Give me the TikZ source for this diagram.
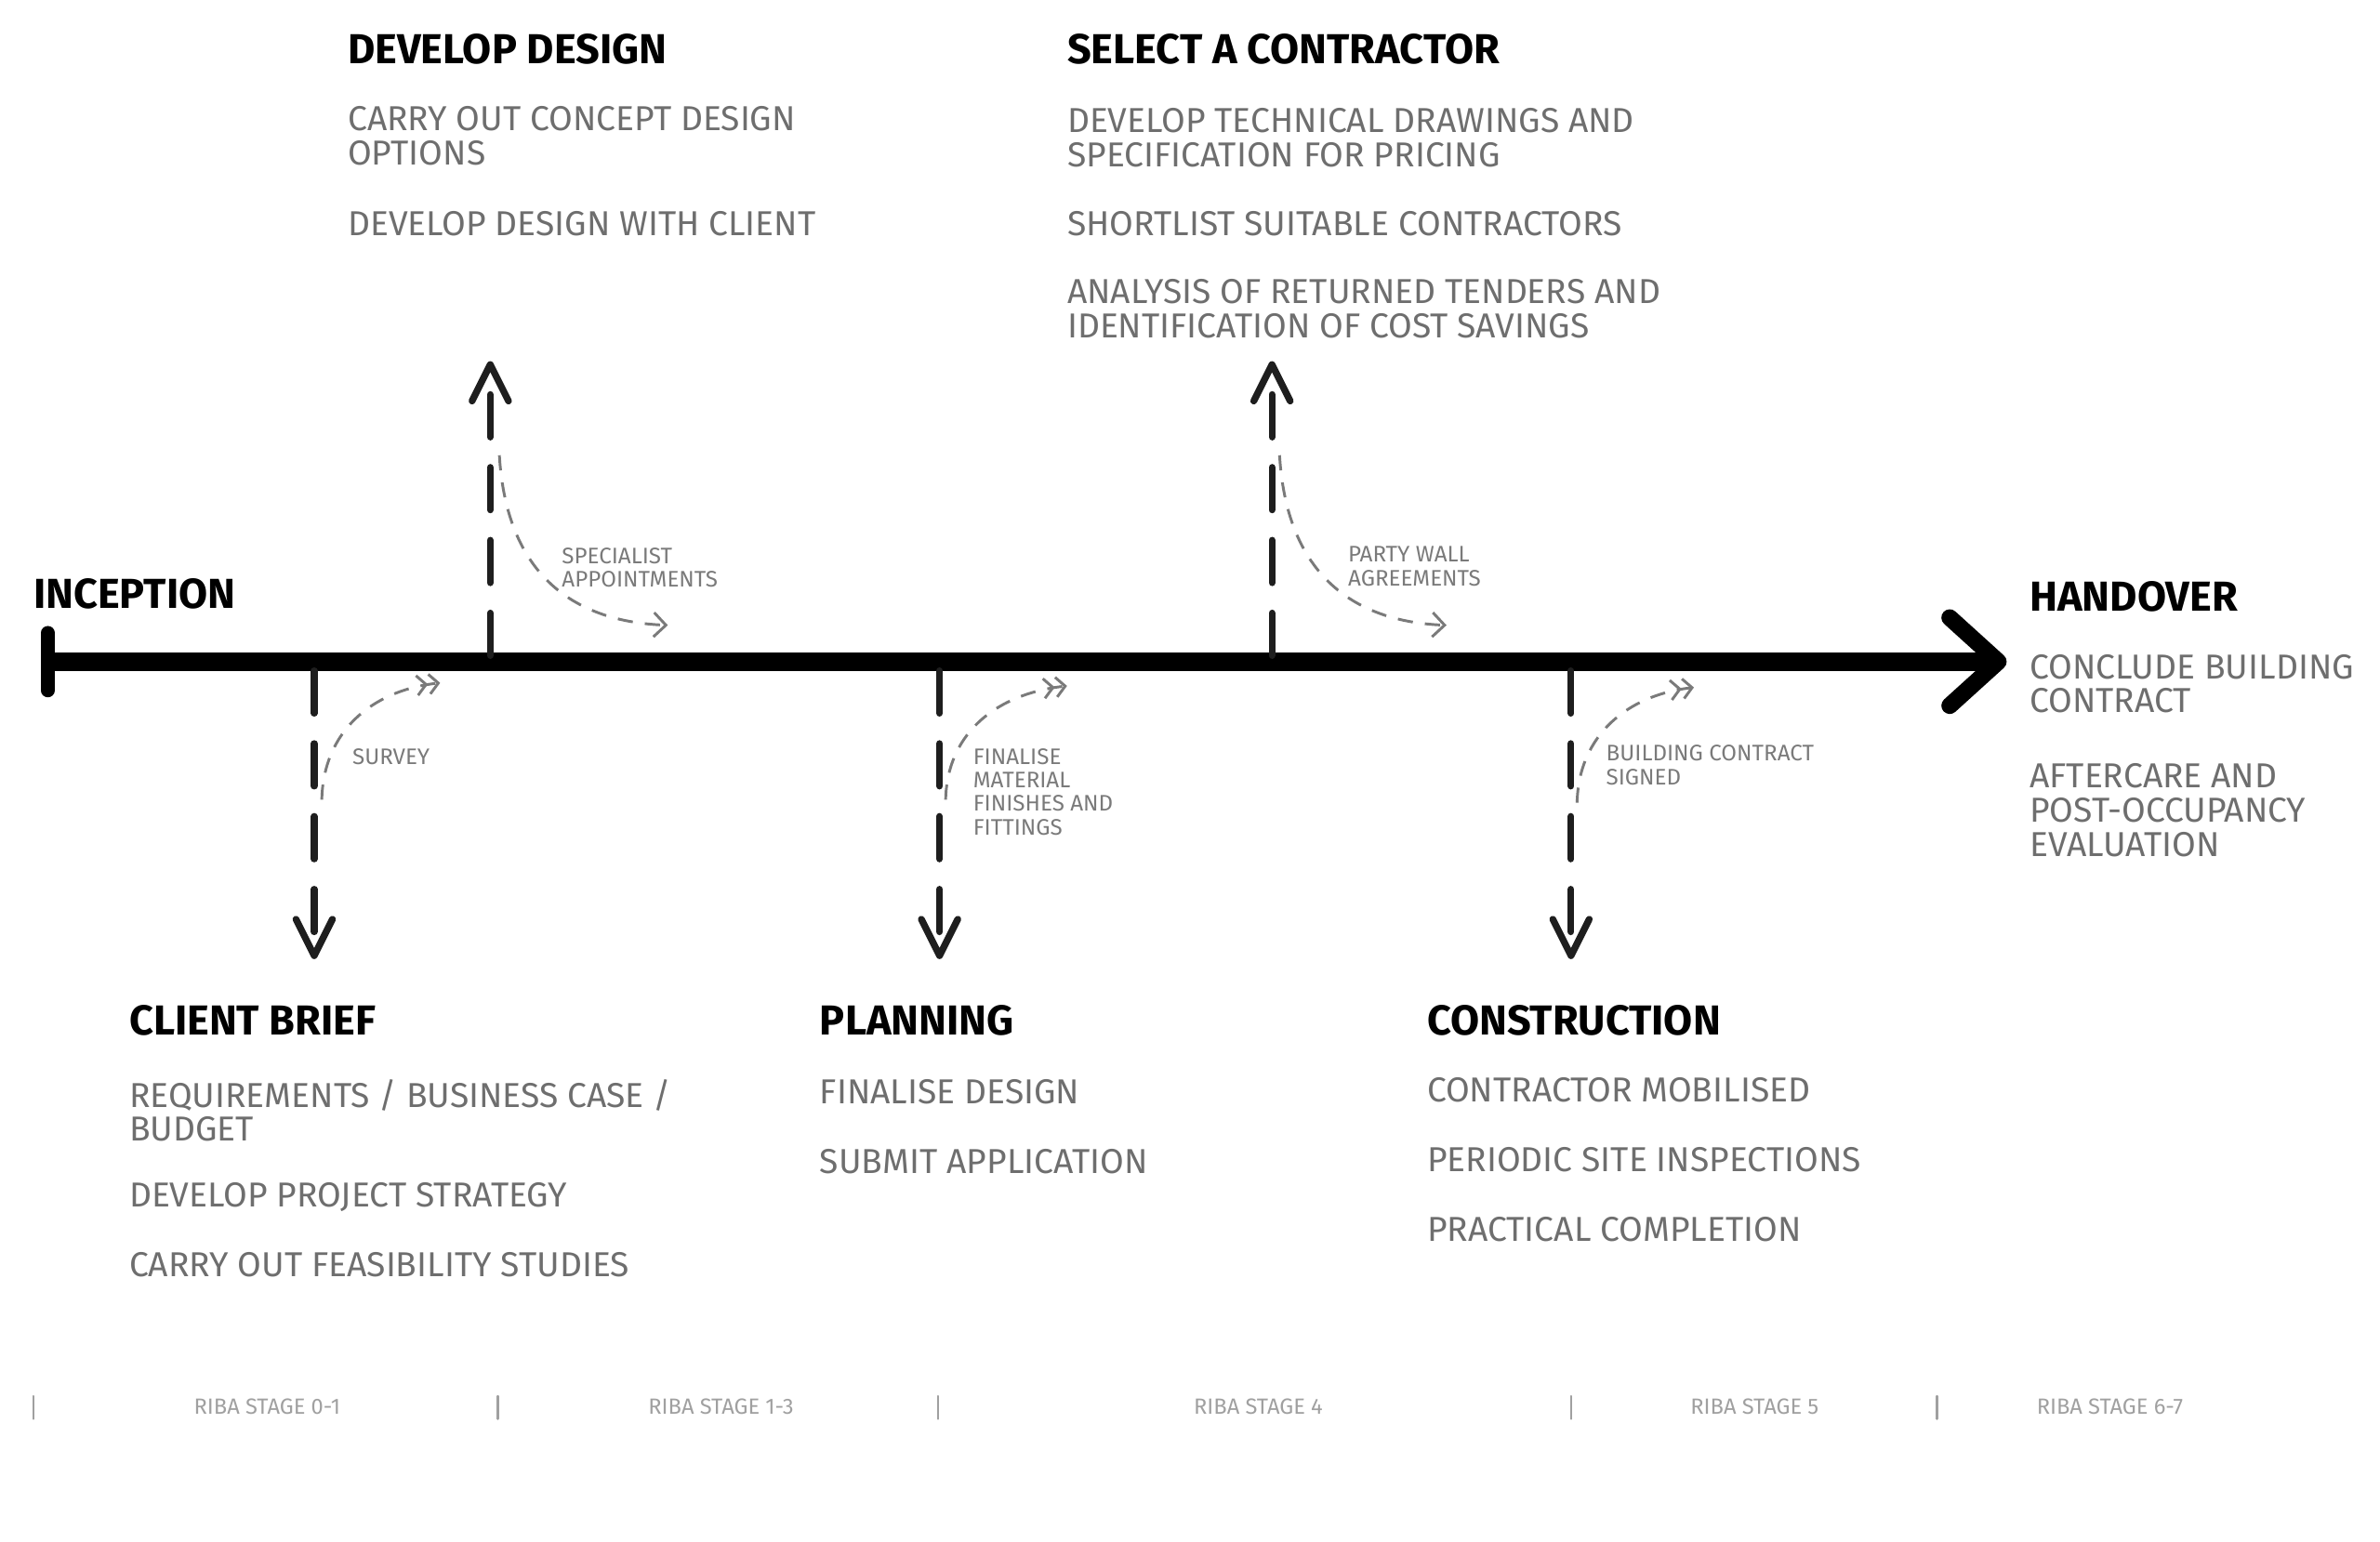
\documentclass[tikz,border=0pt]{standalone}
\usepackage{fontspec}
\setmainfont{Fira Sans}
\usetikzlibrary{arrows.meta}
\definecolor{inkgray}{HTML}{6E6E6E}
\definecolor{notegray}{HTML}{7A7A7A}
\definecolor{stagegray}{HTML}{A0A0A0}
\definecolor{steminka}{HTML}{1E1E1E}

\begin{document}
\begin{tikzpicture}[x=1pt,y=-1pt,
  head/.style={anchor=north west,inner sep=0pt,font=\fontsize{27.6}{30}\selectfont\bfseries},
  item/.style={anchor=north west,inner sep=0pt,align=left,text=inkgray,font=\fontsize{22.8}{22.5}\selectfont},
  aside/.style={anchor=north west,inner sep=0pt,align=left,text=notegray,font=\fontsize{14.8}{15.5}\selectfont},
  stagename/.style={text=stagegray,inner sep=0pt,font=\fontsize{14.5}{15}\selectfont},
  stem/.style={steminka,line width=4.5pt,line cap=round,dash pattern=on 28pt off 20pt,
    -{Straight Barb[length=24pt,width=24pt,line width=4.5pt,round]}},
  hook/.style={notegray,line width=1.8pt,dash pattern=on 10pt off 8pt,
    -{Straight Barb[length=8pt,width=16pt,line width=1.8pt]}},
  hookback/.style={notegray,line width=1.8pt,dash pattern=on 10pt off 8pt,
    -{Straight Barb[length=6pt,width=13pt,line width=1.8pt]Straight Barb[length=6pt,width=13pt,line width=1.8pt]}}]
  \useasboundingbox (0,0) rectangle (1568,1016);
  \def\stagetick#1{\draw[stagegray,line width=1.5pt,line cap=round] (#1,920) -- (#1,935);}
  % timeline
  \coordinate (t0) at (27,436);
  \coordinate (t1) at (1322,436);
  \draw[line width=12.5pt,{Bar[width=38pt,line width=9pt,round]}-{Straight Barb[length=32pt,width=58pt,line width=11pt,round]}] (t0) -- (t1);
  \node[head] (inception) at (22,381) {INCEPTION};
  \node[head] (handover) at (1337,383) {HANDOVER};
  \node[item] (handover-a) at (1337,431) {CONCLUDE BUILDING\\CONTRACT};
  \node[item] (handover-b) at (1337,503) {AFTERCARE AND\\POST-OCCUPANCY\\EVALUATION};
  % upper stages
  \node[head] (design) at (229,22) {DEVELOP DESIGN};
  \node[item] (design-a) at (229,70) {CARRY OUT CONCEPT DESIGN\\OPTIONS};
  \node[item] (design-b) at (229,139) {DEVELOP DESIGN WITH CLIENT};
  \node[head] (tender) at (703,22) {SELECT A CONTRACTOR};
  \node[item] (tender-a) at (703,71) {DEVELOP TECHNICAL DRAWINGS AND\\SPECIFICATION FOR PRICING};
  \node[item] (tender-b) at (703,139) {SHORTLIST SUITABLE CONTRACTORS};
  \node[item] (tender-c) at (703,184) {ANALYSIS OF RETURNED TENDERS AND\\IDENTIFICATION OF COST SAVINGS};
  % lower stages
  \node[head] (brief) at (85,662) {CLIENT BRIEF};
  \node[item] (brief-a) at (85,711) {REQUIREMENTS / BUSINESS CASE /\\BUDGET};
  \node[item] (brief-b) at (85,779) {DEVELOP PROJECT STRATEGY};
  \node[item] (brief-c) at (85,825) {CARRY OUT FEASIBILITY STUDIES};
  \node[head] (planning) at (540,662) {PLANNING};
  \node[item] (planning-a) at (540,711) {FINALISE DESIGN};
  \node[item] (planning-b) at (540,757) {SUBMIT APPLICATION};
  \node[head] (construction) at (940,662) {CONSTRUCTION};
  \node[item] (construction-a) at (940,710) {CONTRACTOR MOBILISED};
  \node[item] (construction-b) at (940,756) {PERIODIC SITE INSPECTIONS};
  \node[item] (construction-c) at (940,802) {PRACTICAL COMPLETION};
  % dashed stems off the timeline
  \coordinate (up1) at (323,432);   \coordinate (up1-tip) at (323,238);
  \coordinate (up2) at (838,432);   \coordinate (up2-tip) at (838,238);
  \coordinate (dn1) at (207,442);   \coordinate (dn1-tip) at (207,632);
  \coordinate (dn2) at (619,442);   \coordinate (dn2-tip) at (619,632);
  \coordinate (dn3) at (1035,442);  \coordinate (dn3-tip) at (1035,632);
  \draw[stem] (up1) -- (up1-tip);
  \draw[stem] (up2) -- (up2-tip);
  \draw[stem] (dn1) -- (dn1-tip);
  \draw[stem] (dn2) -- (dn2-tip);
  \draw[stem] (dn3) -- (dn3-tip);
  % side notes
  \draw[hook] (329,300) .. controls (334,385) and (385,410) .. (440,412);
  \node[aside] (specialist) at (370,361) {SPECIALIST\\APPOINTMENTS};
  \draw[hook] (843,300) .. controls (848,385) and (899,410) .. (953,412);
  \node[aside] (partywall) at (888,360) {PARTY WALL\\AGREEMENTS};
  \draw[hookback] (212,527) .. controls (213,482) and (245,455) .. (290,450);
  \node[aside] (survey) at (232,493) {SURVEY};
  \draw[hookback] (623,527) .. controls (624,482) and (658,457) .. (703,452);
  \node[aside] (finalise) at (641,493) {FINALISE\\MATERIAL\\FINISHES AND\\FITTINGS};
  \draw[hookback] (1039,529) .. controls (1040,484) and (1073,458) .. (1116,453);
  \node[aside] (signed) at (1058,491) {BUILDING CONTRACT\\SIGNED};
  % RIBA stages
  \stagetick{22} \stagetick{328} \stagetick{618} \stagetick{1035} \stagetick{1276}
  \node[stagename] (riba01) at (176,927) {RIBA STAGE 0-1};
  \node[stagename] (riba13) at (475,927) {RIBA STAGE 1-3};
  \node[stagename] (riba4) at (829,927) {RIBA STAGE 4};
  \node[stagename] (riba5) at (1156,927) {RIBA STAGE 5};
  \node[stagename] (riba67) at (1390,927) {RIBA STAGE 6-7};
\end{tikzpicture}
\end{document}
